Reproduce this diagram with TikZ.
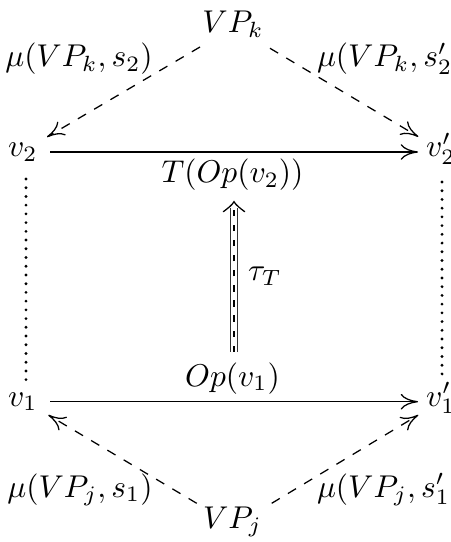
\documentclass[tikz,border=0pt]{standalone}
\usetikzlibrary{arrows.meta}
\begin{document}
\begin{tikzpicture}[x=0.3175pt,y=-0.3175pt,
  lbl/.style={inner sep=0pt,outer sep=0pt},
  tip/.style={-{Computer Modern Rightarrow[length=5.5pt,width=5pt]}},
  mainarrow/.style={tip,line width=0.4pt},
  dasharrow/.style={tip,line width=0.4pt,dash pattern=on 3pt off 3pt},
  vdots/.style={line width=1pt,line cap=round,dash pattern=on 0pt off 2.77pt},
  dline/.style={line width=0.4pt,black!80},
  dmid/.style={line width=0.4pt,dash pattern=on 2pt off 2.8pt}]
\useasboundingbox (0,0) rectangle (450,542);
% nodes
\node[lbl,anchor=base] (VPk) at (233,33) {$VP_k$};
\node[lbl,anchor=base] (muk1) at (79,67) {$\mu(VP_k,s_2)$};
\node[lbl,anchor=base west] (muk2) at (317,67) {$\mu(VP_k,s'_2)$};
\node[lbl,anchor=base west] (v2) at (8,157) {$v_2$};
\node[lbl,anchor=base west] (v2p) at (426,157) {$v'_2$};
\node[lbl,anchor=base] (Tlab) at (232.5,183) {$T(Op(v_2))$};
\node[lbl,anchor=base] (tau) at (265,281) {$\tau_T$};
\node[lbl,anchor=base] (Op1) at (232.5,386) {$Op(v_1)$};
\node[lbl,anchor=base west] (v1) at (8,406) {$v_1$};
\node[lbl,anchor=base west] (v1p) at (426,406) {$v'_1$};
\node[lbl,anchor=base] (muj1) at (80,497) {$\mu(VP_j,s_1)$};
\node[lbl,anchor=base west] (muj2) at (317,497) {$\mu(VP_j,s'_1)$};
\node[lbl,anchor=base] (VPj) at (232.5,528) {$VP_j$};
% horizontal arrows
\draw[mainarrow] ([shift={(42,-5)}]v2.base west) -- ([shift={(-8,-5)}]v2p.base west);
\draw[mainarrow] ([shift={(42,-4.3)}]v1.base west) -- ([shift={(-8,-4.3)}]v1p.base west);
% dashed arrows
\draw[dasharrow] ([shift={(-33,14)}]VPk.base) -- ([shift={(39,-20)}]v2.base west);
\draw[dasharrow] ([shift={(37,15.3)}]VPk.base) -- ([shift={(-7.7,-20.3)}]v2p.base west);
\draw[dasharrow] ([shift={(-35.8,-24.7)}]VPj.base) -- ([shift={(40.3,9)}]v1.base west);
\draw[dasharrow] ([shift={(39.2,-24.7)}]VPj.base) -- ([shift={(-7.7,9)}]v1p.base west);
% vertical dotted lines
\draw[vdots] ([shift={(18,22)}]v2.base west) -- ([shift={(18,-26)}]v1.base west);
\draw[vdots] ([shift={(16,25)}]v2p.base west) -- ([shift={(16,-31)}]v1p.base west);
% double arrow tau_T
\coordinate (dtip) at ([shift={(1.5,18.7)}]Tlab.base);
\coordinate (dbot) at ([shift={(1.5,-34)}]Op1.base);
\draw[dline] ([shift={(-3.3,0)}]dbot) -- ([shift={(-3.3,6)}]dtip);
\draw[dline] ([shift={(3.3,0)}]dbot) -- ([shift={(3.3,6)}]dtip);
\draw[dmid] (dbot) -- ([shift={(0,5)}]dtip);
\draw[line width=0.4pt,line cap=round]
  ([shift={(-10.7,10)}]dtip) .. controls ([shift={(-6,6.5)}]dtip) and ([shift={(-2,3.5)}]dtip) .. (dtip)
  .. controls ([shift={(2,3.5)}]dtip) and ([shift={(6,6.5)}]dtip) .. ([shift={(10.7,10)}]dtip);
\end{tikzpicture}
\end{document}
